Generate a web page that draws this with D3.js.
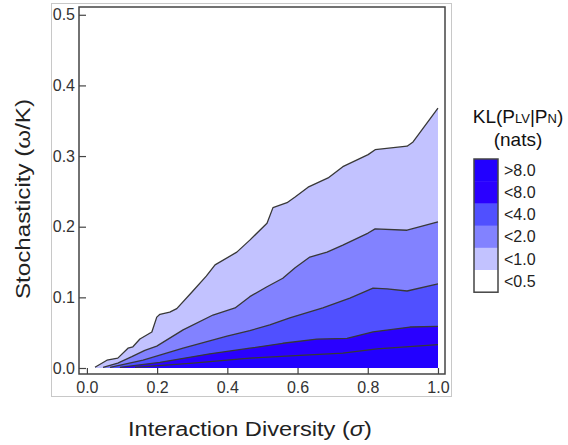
<!DOCTYPE html>
<html>
<head>
<meta charset="utf-8">
<script src="https://cdn.jsdelivr.net/npm/d3@7"></script>
<style>
  body { margin: 0; background: white; }
  text { font-family: "Liberation Sans", Arial, sans-serif; }
  .tick text { font-size: 16px; fill: #333; }
  .tick line { stroke: #444; stroke-width: 1.2; }
</style>
</head>
<body>
<div id="chart"></div>
<script>
//////////////////////////////////////////////////////////////
//////////////////////// Data ////////////////////////////////
//////////////////////////////////////////////////////////////

// contour lines, [sigma, omega/K]
const kl05 = [[0.023,0.001],[0.057,0.011],[0.088,0.014],[0.117,0.028],[0.131,0.030],[0.151,0.041],[0.185,0.051],[0.199,0.072],[0.208,0.076],[0.236,0.079],[0.256,0.084],[0.30,0.108],[0.34,0.130],[0.365,0.146],[0.427,0.164],[0.464,0.181],[0.513,0.205],[0.530,0.227],[0.570,0.234],[0.593,0.242],[0.630,0.256],[0.687,0.269],[0.729,0.285],[0.801,0.302],[0.821,0.309],[0.912,0.314],[0.929,0.320],[1.0,0.368]]
const kl1 = [[0.046,0.001],[0.088,0.007],[0.128,0.016],[0.165,0.025],[0.199,0.031],[0.274,0.054],[0.359,0.075],[0.422,0.085],[0.464,0.101],[0.513,0.115],[0.558,0.127],[0.593,0.142],[0.635,0.157],[0.684,0.164],[0.729,0.174],[0.801,0.191],[0.821,0.197],[0.912,0.195],[1.0,0.207]]
const kl2 = [[0.066,0.001],[0.160,0.011],[0.274,0.028],[0.399,0.045],[0.464,0.053],[0.521,0.061],[0.578,0.071],[0.672,0.085],[0.749,0.099],[0.815,0.113],[0.855,0.112],[0.912,0.109],[1.0,0.119]]
const kl4 = [[0.094,0.001],[0.208,0.008],[0.350,0.020],[0.464,0.028],[0.558,0.035],[0.655,0.041],[0.741,0.042],[0.815,0.051],[0.920,0.058],[1.0,0.059]]
const kl8 = [[0.137,0.001],[0.302,0.007],[0.464,0.014],[0.607,0.018],[0.729,0.021],[0.826,0.027],[1.0,0.033]]

const xTicks = [0, 0.2, 0.4, 0.6, 0.8, 1.0]
const yTicks = [0, 0.1, 0.2, 0.3, 0.4, 0.5]

const legendLabels = [">8.0", "<8.0", "<4.0", "<2.0", "<1.0", "<0.5"]
const legendColors = ["#2200ff", "#2a00ff", "#5050ff", "#8282ff", "#c2c2ff", "#ffffff"]

//legend title, split where the font size changes
const titlePieces = [["KL(P", 19], ["LV", 13], ["|P", 19], ["N", 13], [")", 19]]

//////////////////////////////////////////////////////////////
//////////////////////// Create SVG //////////////////////////
//////////////////////////////////////////////////////////////

const W = 568
const H = 445
const frame = {left: 79, right: 445, top: 7, bottom: 374}

const svg = d3.select("#chart")
    .append("svg")
    .attr("width", W)
    .attr("height", H)

svg.append("rect").attr("width", W).attr("height", H).style("fill", "white")

//light outer box round the plot
svg.append("rect")
    .attr("x", 51.5).attr("y", 3.5)
    .attr("width", 400).attr("height", 393)
    .style("fill", "none")
    .style("stroke", "#c8c8c8")

//////////////////////////////////////////////////////////////
////////////////////// Create scales /////////////////////////
//////////////////////////////////////////////////////////////

const x = d3.scaleLinear()
    .domain([-0.0225, 1.02])
    .range([frame.left, frame.right])

const y = d3.scaleLinear()
    .domain([-0.0085, 0.511])
    .range([frame.bottom, frame.top])

const area = d3.area()
    .x(d => x(d[0]))
    .y0(y(0))
    .y1(d => y(d[1]))

const line = d3.line()
    .x(d => x(d[0]))
    .y(d => y(d[1]))

//////////////////////////////////////////////////////////////
///////////////////////// Draw bands /////////////////////////
//////////////////////////////////////////////////////////////

//from the outer contour inward, each band painted over the last
const contours = [kl05, kl1, kl2, kl4, kl8]
const fills = [legendColors[4], legendColors[3], legendColors[2], legendColors[1], legendColors[0]]

const bands = svg.append("g").attr("class", "band-group")

bands.selectAll(".band")
    .data(contours)
    .enter().append("path")
    .attr("class", "band")
    .attr("d", area)
    .style("fill", (d,i) => fills[i])

bands.selectAll(".contour")
    .data(contours)
    .enter().append("path")
    .attr("class", "contour")
    .attr("d", line)
    .style("fill", "none")
    .style("stroke", "#383838")
    .style("stroke-width", 1.3)
    .style("stroke-linejoin", "round")

//////////////////////////////////////////////////////////////
///////////////////////// Draw axes //////////////////////////
//////////////////////////////////////////////////////////////

const xAxis = svg.append("g")
    .attr("transform", "translate(0," + frame.bottom + ")")
    .call(d3.axisBottom(x).tickValues(xTicks).tickSize(-6).tickPadding(8).tickFormat(d3.format(".1f")))
xAxis.select(".domain").remove()

const yAxis = svg.append("g")
    .attr("transform", "translate(" + frame.left + ",0)")
    .call(d3.axisLeft(y).tickValues(yTicks).tickSize(-7).tickPadding(4).tickFormat(d3.format(".1f")))
yAxis.select(".domain").remove()

svg.append("rect")
    .attr("x", frame.left).attr("y", frame.top)
    .attr("width", frame.right - frame.left)
    .attr("height", frame.bottom - frame.top)
    .style("fill", "none")
    .style("stroke", "#444")
    .style("stroke-width", 1.5)

//axis titles, stretched to the width they take in the original
svg.append("text")
    .attr("x", 250).attr("y", 436)
    .attr("text-anchor", "middle")
    .attr("textLength", 244)
    .attr("lengthAdjust", "spacingAndGlyphs")
    .style("font-size", "20px")
    .style("fill", "#222")
    .html("Interaction Diversity (<tspan font-style='italic'>σ</tspan>)")

svg.append("text")
    .attr("transform", "translate(30,199) rotate(-90)")
    .attr("text-anchor", "middle")
    .attr("textLength", 200)
    .attr("lengthAdjust", "spacingAndGlyphs")
    .style("font-size", "20px")
    .style("fill", "#222")
    .text("Stochasticity (ω/K)")

//////////////////////////////////////////////////////////////
///////////////////////// Legend /////////////////////////////
//////////////////////////////////////////////////////////////

const legend = svg.append("g").attr("class", "legend")
const swatchH = 22.2

//title pieces laid side by side, then the row centred
const title = legend.append("g")
let cursor = 0
titlePieces.forEach(p => {
    const t = title.append("text")
        .attr("x", cursor).attr("y", 123)
        .style("font-size", p[1] + "px")
        .style("fill", "#111")
        .text(p[0])
    cursor += t.node().getComputedTextLength()
})
title.attr("transform", "translate(" + (518 - cursor/2) + ",0)")

legend.append("text")
    .attr("x", 518).attr("y", 146)
    .attr("text-anchor", "middle")
    .style("font-size", "19px")
    .style("fill", "#111")
    .text("(nats)")

legend.selectAll(".swatch")
    .data(legendColors)
    .enter().append("rect")
    .attr("class", "swatch")
    .attr("x", 474)
    .attr("y", (d,i) => 159 + i * swatchH)
    .attr("width", 24)
    .attr("height", swatchH + 0.5)
    .style("fill", d => d)

legend.append("rect")
    .attr("x", 474).attr("y", 159)
    .attr("width", 24).attr("height", swatchH * legendColors.length)
    .style("fill", "none")
    .style("stroke", "#444")
    .style("stroke-width", 1.5)

legend.selectAll(".legend-label")
    .data(legendLabels)
    .enter().append("text")
    .attr("class", "legend-label")
    .attr("x", 504)
    .attr("y", (d,i) => 159 + (i + 0.5) * swatchH)
    .attr("dy", "0.35em")
    .style("font-size", "16px")
    .style("fill", "#222")
    .text(d => d)
</script>
</body>
</html>
